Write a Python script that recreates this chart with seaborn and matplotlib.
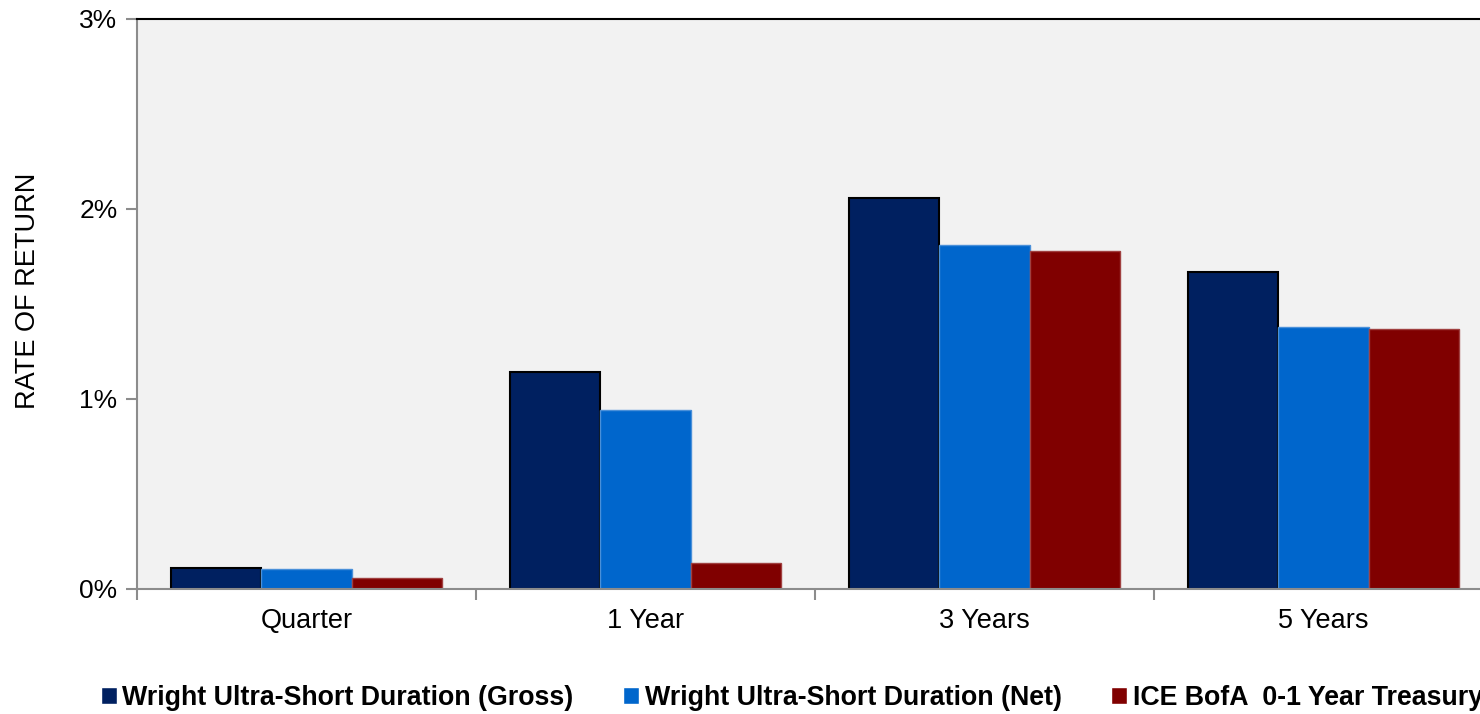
import numpy as np
import pandas as pd
import matplotlib
matplotlib.use("Agg")
import matplotlib.pyplot as plt
import seaborn as sns

# values (percent)
periods = ["Quarter", "1 Year", "3 Years", "5 Years"]
series = ["Wright Ultra-Short Duration (Gross)",
          "Wright Ultra-Short Duration (Net)",
          "ICE BofA  0-1 Year Treasury"]
gross = [0.11, 1.14, 2.06, 1.67]
net = [0.105, 0.94, 1.81, 1.38]
ice = [0.058, 0.137, 1.78, 1.37]
colors = ["#002060", "#0066CC", "#800000"]
edges = ["#000000", "#4A90D9", "#A04040"]

df = pd.DataFrame({
    "period": periods * 3,
    "series": [series[0]] * 4 + [series[1]] * 4 + [series[2]] * 4,
    "value": gross + net + ice,
})

sns.set_style("white")
plt.rcParams["font.family"] = ["Liberation Sans", "DejaVu Sans"]
plt.rcParams["text.color"] = "black"
plt.rcParams["axes.labelcolor"] = "black"
plt.rcParams["xtick.labelcolor"] = "black"
plt.rcParams["ytick.labelcolor"] = "black"

fig = plt.figure(figsize=(14.8, 7.14), dpi=100)
ax = fig.add_axes([137 / 1480, 125 / 714, 1356 / 1480, 570 / 714])
ax.set_facecolor("#F2F2F2")

sns.barplot(data=df, x="period", y="value", hue="series", order=periods,
            hue_order=series, palette=colors, width=0.8, gap=0,
            saturation=1, ax=ax, legend=True)

# bar edges per series
for cont, ec, lw in zip(ax.containers, edges, [1.5, 1.0, 1.0]):
    for bar in cont:
        bar.set_edgecolor(ec)
        bar.set_linewidth(lw)

ax.set_xlim(-0.5, 3.5)
ax.set_ylim(0, 3)
ax.set_yticks([0, 1, 2, 3])
ax.set_yticklabels(["0%", "1%", "2%", "3%"])
ax.set_xticks(range(4))
ax.set_xticklabels(periods)
ax.set_xticks(np.arange(-0.5, 3.6, 1), minor=True)
ax.tick_params(axis="x", which="major", length=0, labelsize=19.5, pad=14,
               labelcolor="black")
ax.tick_params(axis="x", which="minor", length=8, width=1.5, color="#8C8C8C",
               direction="out", bottom=True)
ax.tick_params(axis="y", length=8, width=1.5, color="#8C8C8C",
               labelsize=19, pad=6, left=True, labelcolor="black")
ax.set_xlabel("")
ax.set_ylabel("RATE OF RETURN", fontsize=19.5, color="black")
ax.yaxis.set_label_coords(-0.0705, 0.523)

for side in ["left", "bottom"]:
    ax.spines[side].set_color("#8C8C8C")
    ax.spines[side].set_linewidth(1.5)
ax.spines["top"].set_visible(True)
ax.spines["top"].set_color("#000000")
ax.spines["top"].set_linewidth(1.5)
ax.spines["right"].set_visible(False)

handles, labels = ax.get_legend_handles_labels()
ax.get_legend().remove()
fig.legend(handles, labels, loc="center left",
           bbox_to_anchor=(101 / 1480, 1 - 698 / 714), ncol=3,
           frameon=False, prop={"weight": "bold", "size": 19.3},
           handlelength=0.6, handleheight=0.6, handletextpad=0.2,
           columnspacing=1.85, borderaxespad=0, borderpad=0,
           labelcolor="black")

fig.savefig("out.png", dpi=100)
